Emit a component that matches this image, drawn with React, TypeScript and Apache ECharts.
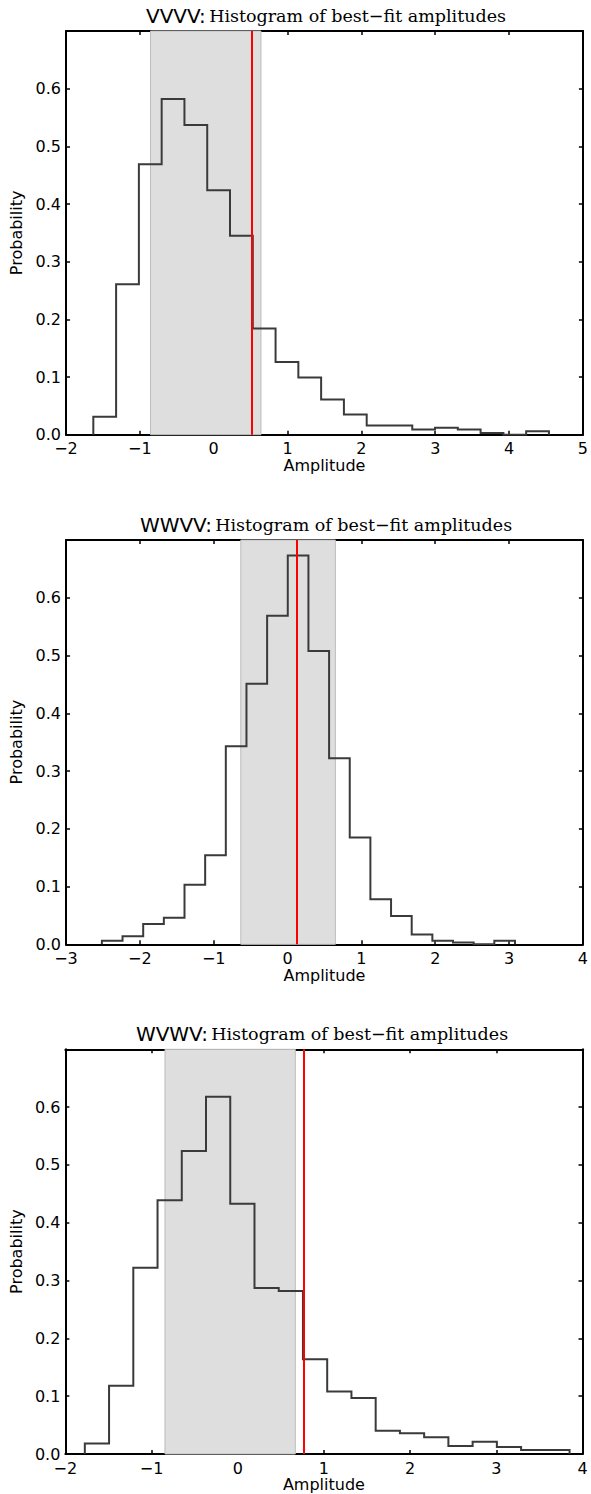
import React, { useEffect, useRef } from "react";
import * as echarts from "echarts";

// ---- Data ----
const panelNames = ["VVVV", "WWVV", "WVWV"];

// VVVV
const vvvvBinStart = -1.63;
const vvvvBinWidth = 0.3085;
const vvvvValues = [0.031, 0.261, 0.469, 0.582, 0.537, 0.424, 0.345, 0.184, 0.126, 0.099, 0.061, 0.035, 0.016, 0.016, 0.009, 0.012, 0.009, 0.003, 0.0, 0.006];
const vvvvBand = [-0.856, 0.64];
const vvvvBest = 0.515;
const vvvvXRange = [-2, 5];

// WWVV
const wwvvBinStart = -2.514;
const wwvvBinWidth = 0.2797;
const wwvvValues = [0.006, 0.014, 0.035, 0.046, 0.103, 0.154, 0.343, 0.451, 0.569, 0.673, 0.508, 0.322, 0.185, 0.078, 0.049, 0.017, 0.006, 0.003, 0.0, 0.006];
const wwvvBand = [-0.633, 0.648];
const wwvvBest = 0.126;
const wwvvXRange = [-3, 4];

// WVWV
const wvwvBinStart = -1.774;
const wvwvBinWidth = 0.2812;
const wvwvValues = [0.018, 0.118, 0.322, 0.439, 0.524, 0.618, 0.433, 0.287, 0.282, 0.164, 0.108, 0.097, 0.040, 0.036, 0.029, 0.014, 0.021, 0.012, 0.007, 0.007];
const wvwvBand = [-0.844, 0.668];
const wvwvBest = 0.768;
const wvwvXRange = [-2, 4];

const yTickMax = 0.7;
const yTickStep = 0.1;

const panels = [
  { name: panelNames[0], start: vvvvBinStart, width: vvvvBinWidth, values: vvvvValues, band: vvvvBand, best: vvvvBest, xr: vvvvXRange },
  { name: panelNames[1], start: wwvvBinStart, width: wwvvBinWidth, values: wwvvValues, band: wwvvBand, best: wwvvBest, xr: wwvvXRange },
  { name: panelNames[2], start: wvwvBinStart, width: wvwvBinWidth, values: wvwvValues, band: wvwvBand, best: wvwvBest, xr: wvwvXRange },
];

// layout (pixels)
const grids = [
  { left: 66, right: 5, top: 31, height: 403.7 },
  { left: 66, right: 5, top: 540, height: 404.3 },
  { left: 61.5, right: 8.5, top: 1049.3, height: 404.7 },
];
const W = 591;
const H = 1494;

function stepPoints(start: number, width: number, values: number[]) {
  const pts: number[][] = [[start, 0]];
  values.forEach((v, i) => {
    const a = start + i * width;
    const b = start + (i + 1) * width;
    pts.push([a, v], [b, v]);
  });
  pts.push([start + values.length * width, 0]);
  return pts;
}

const fmtX = (v: number) => (v < 0 ? "\u2212" + Math.abs(v) : String(v));
const fmtY = (v: number) => v.toFixed(1);

export default function App() {
  const ref = useRef<HTMLDivElement>(null);
  useEffect(() => {
    if (!ref.current) return;
    const chart = echarts.init(ref.current, undefined, { renderer: "svg" });
    const frame = { show: true, onZero: false, lineStyle: { color: "#000", width: 2 } };
    const tick = { show: true, inside: true, length: 4, lineStyle: { color: "#000", width: 1.5 } };
    const font = { fontFamily: "DejaVu Sans", fontSize: 16, color: "#000" };

    const xAxis: any[] = [];
    const yAxis: any[] = [];
    const series: any[] = [];
    const graphic: any[] = [];

    panels.forEach((p, i) => {
      xAxis.push({
        type: "value", gridIndex: i, min: p.xr[0], max: p.xr[1], interval: 1, position: "bottom",
        axisLine: frame, axisTick: tick, splitLine: { show: false },
        axisLabel: { ...font, margin: 6, formatter: fmtX },
        name: "Amplitude", nameLocation: "middle", nameGap: 21,
        nameTextStyle: { ...font },
      });
      xAxis.push({
        type: "value", gridIndex: i, min: p.xr[0], max: p.xr[1], interval: 1, position: "top",
        axisLine: frame, axisTick: tick, splitLine: { show: false }, axisLabel: { show: false },
      });
      yAxis.push({
        type: "value", gridIndex: i, min: 0, max: yTickMax, interval: yTickStep, position: "left",
        axisLine: frame, axisTick: tick, splitLine: { show: false },
        axisLabel: { ...font, margin: 5, formatter: fmtY, showMaxLabel: false },
        name: "Probability", nameLocation: "middle", nameGap: 37,
        nameTextStyle: { ...font },
      });
      yAxis.push({
        type: "value", gridIndex: i, min: 0, max: yTickMax, interval: yTickStep, position: "right",
        axisLine: frame, axisTick: tick, splitLine: { show: false }, axisLabel: { show: false },
      });

      series.push({
        type: "line", xAxisIndex: 2 * i, yAxisIndex: 2 * i, data: [], z: 1,
        markArea: {
          silent: true,
          itemStyle: { color: "#dedede", borderColor: "#bcbcbc", borderWidth: 1 },
          data: [[{ xAxis: p.band[0] }, { xAxis: p.band[1] }]],
        },
      });
      series.push({
        type: "line", xAxisIndex: 2 * i, yAxisIndex: 2 * i, z: 3,
        data: stepPoints(p.start, p.width, p.values),
        symbol: "none", showSymbol: false,
        lineStyle: { color: "#3a3a3a", width: 2, join: "miter" },
      });
      series.push({
        type: "line", xAxisIndex: 2 * i, yAxisIndex: 2 * i, data: [], z: 4,
        markLine: {
          silent: true, symbol: ["none", "none"], label: { show: false },
          lineStyle: { color: "#ff0000", width: 2, type: "solid" },
          data: [{ xAxis: p.best }],
        },
      });

      const g = grids[i];
      const cx = g.left + (W - g.left - g.right) / 2;
      graphic.push({
        type: "text",
        x: cx,
        y: g.top - 5,
        style: {
          text: "{a|" + p.name + ":} {b|Histogram of best\u2212fit amplitudes}",
          align: "center",
          verticalAlign: "bottom",
          rich: {
            a: { fontFamily: "DejaVu Sans", fontSize: 20, fill: "#000" },
            b: { fontFamily: "DejaVu Serif", fontSize: 17.5, fill: "#000" },
          },
        },
      });
    });

    chart.setOption({
      animation: false,
      backgroundColor: "#fff",
      grid: grids.map((g) => ({ ...g, containLabel: false })),
      xAxis,
      yAxis,
      series,
      graphic,
    });
    return () => chart.dispose();
  }, []);
  return <div ref={ref} style={{ position: "absolute", left: 0, top: 0, width: W, height: H }} />;
}
